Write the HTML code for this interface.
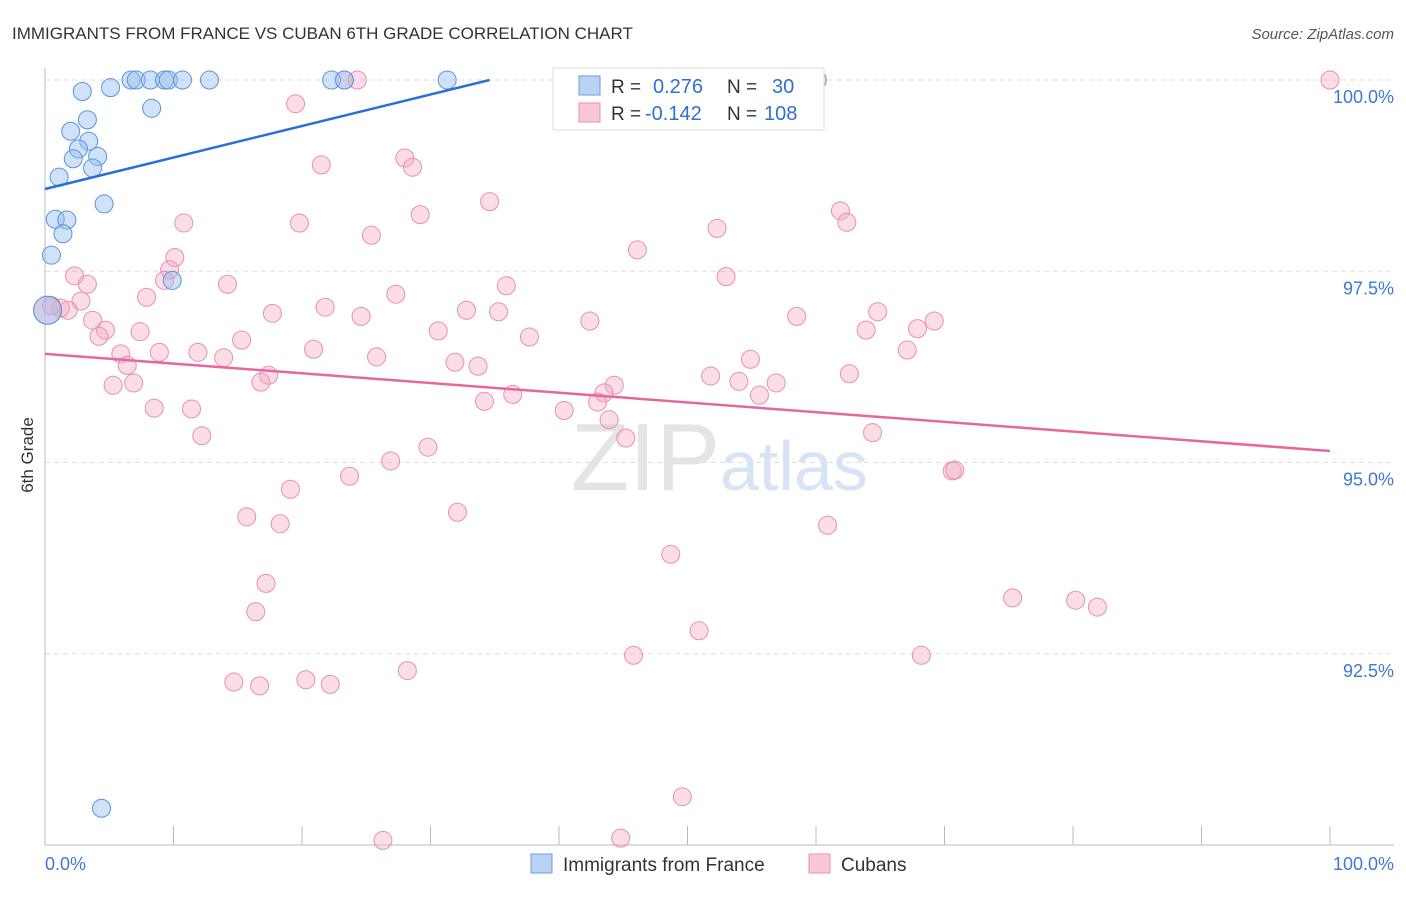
<!DOCTYPE html>
<html><head><meta charset="utf-8"><style>
body{margin:0;background:#fff;font-family:"Liberation Sans",sans-serif;}
svg text{font-family:"Liberation Sans",sans-serif;}
</style></head><body>
<svg id="c" width="1406" height="892">
<text x="12" y="39" font-size="17" fill="#333">IMMIGRANTS FROM FRANCE VS CUBAN 6TH GRADE CORRELATION CHART</text>
<text x="1394" y="39" font-size="15" fill="#555" text-anchor="end" font-style="italic">Source: ZipAtlas.com</text>
<text x="33" y="455" font-size="17" fill="#333" text-anchor="middle" transform="rotate(-90 33 455)">6th Grade</text>
<g id="grid"></g>
<text x="720" y="490" font-size="96" fill="#e4e4e4" text-anchor="end" font-family="Liberation Serif">ZIP</text>
<text x="720" y="490" font-size="70" fill="#d6e4f5">atlas</text>
<g id="pts"></g>
<g id="lines"></g>
<g>
<rect x="553" y="68" width="271" height="62" fill="#fff" stroke="#ddd"/>
<rect x="579" y="76" width="21" height="19" fill="#b9d3f5" stroke="#6a9be0"/>
<rect x="579" y="103" width="21" height="19" fill="#f9c8d7" stroke="#ea8fad"/>
<text x="611" y="93" font-size="19" fill="#333">R =</text><text x="653" y="93" font-size="20" fill="#2f6fd0">0.276</text>
<text x="727" y="93" font-size="19" fill="#333">N =</text><text x="772" y="93" font-size="20" fill="#2f6fd0">30</text>
<text x="611" y="120" font-size="19" fill="#333">R =</text><text x="645" y="120" font-size="20" fill="#2f6fd0">-0.142</text>
<text x="727" y="120" font-size="19" fill="#333">N =</text><text x="764" y="120" font-size="20" fill="#2f6fd0">108</text>
</g>
<g>
<rect x="531" y="854" width="21" height="19" fill="#b9d3f5" stroke="#6a9be0"/>
<text x="563" y="871" font-size="19" fill="#333">Immigrants from France</text>
<rect x="809" y="854" width="21" height="19" fill="#f9c8d7" stroke="#ea8fad"/>
<text x="841" y="871" font-size="19" fill="#333">Cubans</text>
</g>
<text x="45" y="870" font-size="18" fill="#3f78d4">0.0%</text>
<text x="1394" y="870" font-size="18" fill="#3f78d4" text-anchor="end">100.0%</text>
</svg>
<script>
const yTicks=[100,97.5,95,92.5];
const yTickLabels=["100.0%","97.5%","95.0%","92.5%"];
const xTicks=[0,10,20,30,40,50,60,70,80,90,100];
const franceX=[6.7,7.1,8.2,9.3,9.6,10.7,12.8,22.3,23.3,31.3,60.1,5.1,2.9,8.3,3.3,2.0,3.4,2.6,4.1,2.2,3.7,1.1,4.6,0.8,1.7,1.4,0.5,9.9,0.2,4.4];
const franceY=[100,100,100,100,100,100,100,100,100,100,100,99.9,99.85,99.63,99.48,99.33,99.2,99.1,99.0,98.97,98.85,98.73,98.38,98.18,98.17,97.99,97.71,97.38,96.99,90.48];
const cubaX=[100,23.3,24.3,19.5,21.5,28.0,28.6,34.6,29.2,19.8,10.8,25.4,52.3,61.9,62.4,46.1,10.1,9.7,2.3,3.3,14.2,9.3,35.9,53.0,7.9,27.3,2.8,1.2,1.8,0.5,0.2,17.7,21.8,24.6,32.8,35.3,42.4,58.5,64.8,69.2,3.7,4.7,4.2,7.4,15.3,30.6,37.7,63.9,67.9,20.9,5.9,8.9,11.9,13.9,25.8,31.9,33.7,6.4,67.1,54.9,17.4,16.8,5.3,6.9,51.8,54.0,56.9,62.6,44.3,43.5,55.6,34.2,36.4,43.0,8.5,11.4,40.4,43.9,12.2,45.2,64.4,29.8,26.9,23.7,70.6,70.8,19.1,15.7,18.3,32.1,60.9,48.7,17.2,16.4,75.3,80.2,81.9,50.9,45.8,68.2,28.2,14.7,16.7,20.3,22.2,49.6,26.3,44.8];
const cubaY=[100,100,100,99.69,98.89,98.98,98.86,98.41,98.24,98.13,98.13,97.97,98.06,98.29,98.14,97.78,97.68,97.52,97.44,97.33,97.33,97.38,97.31,97.43,97.16,97.2,97.11,97.02,96.99,97.05,96.99,96.95,97.03,96.91,96.99,96.97,96.85,96.91,96.97,96.85,96.86,96.73,96.65,96.71,96.6,96.72,96.64,96.73,96.75,96.48,96.42,96.44,96.44,96.37,96.38,96.31,96.26,96.27,96.47,96.35,96.14,96.05,96.01,96.04,96.13,96.06,96.04,96.16,96.01,95.91,95.88,95.8,95.89,95.79,95.71,95.7,95.68,95.56,95.35,95.32,95.39,95.2,95.02,94.82,94.89,94.9,94.65,94.29,94.2,94.35,94.18,93.8,93.42,93.05,93.23,93.2,93.11,92.8,92.48,92.48,92.28,92.13,92.08,92.16,92.1,90.63,90.06,90.09];
const franceTrend=[[0,98.575],[34.6,100]];
const cubaTrend=[[0,96.42],[100,95.15]];
const X=v=>45+v*12.85, Y=v=>80+(100-v)*76.5;
const NS="http://www.w3.org/2000/svg";
function mk(tag,attrs,parent){const e=document.createElementNS(NS,tag);for(const k in attrs)e.setAttribute(k,attrs[k]);parent.appendChild(e);return e;}
const grid=document.getElementById('grid');
yTicks.forEach((t,i)=>{
 const l=mk('line',{x1:45,x2:1394,y1:Y(t),y2:Y(t),stroke:'#ddd','stroke-dasharray':'5,4'},grid);
 
 
 const tx=mk('text',{x:1394,y:Y(t)+23,'font-size':18,fill:'#3f78d4','text-anchor':'end'},grid);
 tx.textContent=yTickLabels[i];
 
 
});
const ax=mk('line',{x1:45,x2:45,y1:68,y2:845,stroke:'#bbb'},grid);


const bx=mk('line',{x1:45,x2:1394,y1:845,y2:845,stroke:'#bbb'},grid);


xTicks.forEach(t=>{
 const l=mk('line',{x1:X(t),x2:X(t),y1:826,y2:845,stroke:'#bbb'},grid);
 
 
});
const pts=document.getElementById('pts');
cubaX.forEach((x,i)=>{
 const r=(x<=0.5&&i===30)?14:9;
 const c=mk('circle',{cx:X(x),cy:Y(cubaY[i]),r:r,fill:'rgba(246,170,195,0.4)',stroke:'#e890ad','stroke-width':1},pts);
 
 
});
franceX.forEach((x,i)=>{
 const r=(i===28)?14:9;
 const c=mk('circle',{cx:X(x),cy:Y(franceY[i]),r:r,fill:'rgba(150,190,240,0.45)',stroke:'#5b93de','stroke-width':1},pts);
 
 
});
const lines=document.getElementById('lines');
const lf=mk('line',{x1:X(franceTrend[0][0]),y1:Y(franceTrend[0][1]),x2:X(franceTrend[1][0]),y2:Y(franceTrend[1][1]),stroke:'#2a6fd6','stroke-width':2.5},lines);


const lc=mk('line',{x1:X(cubaTrend[0][0]),y1:Y(cubaTrend[0][1]),x2:X(cubaTrend[1][0]),y2:Y(cubaTrend[1][1]),stroke:'#e8679a','stroke-width':2.5},lines);


</script>
</body></html>
